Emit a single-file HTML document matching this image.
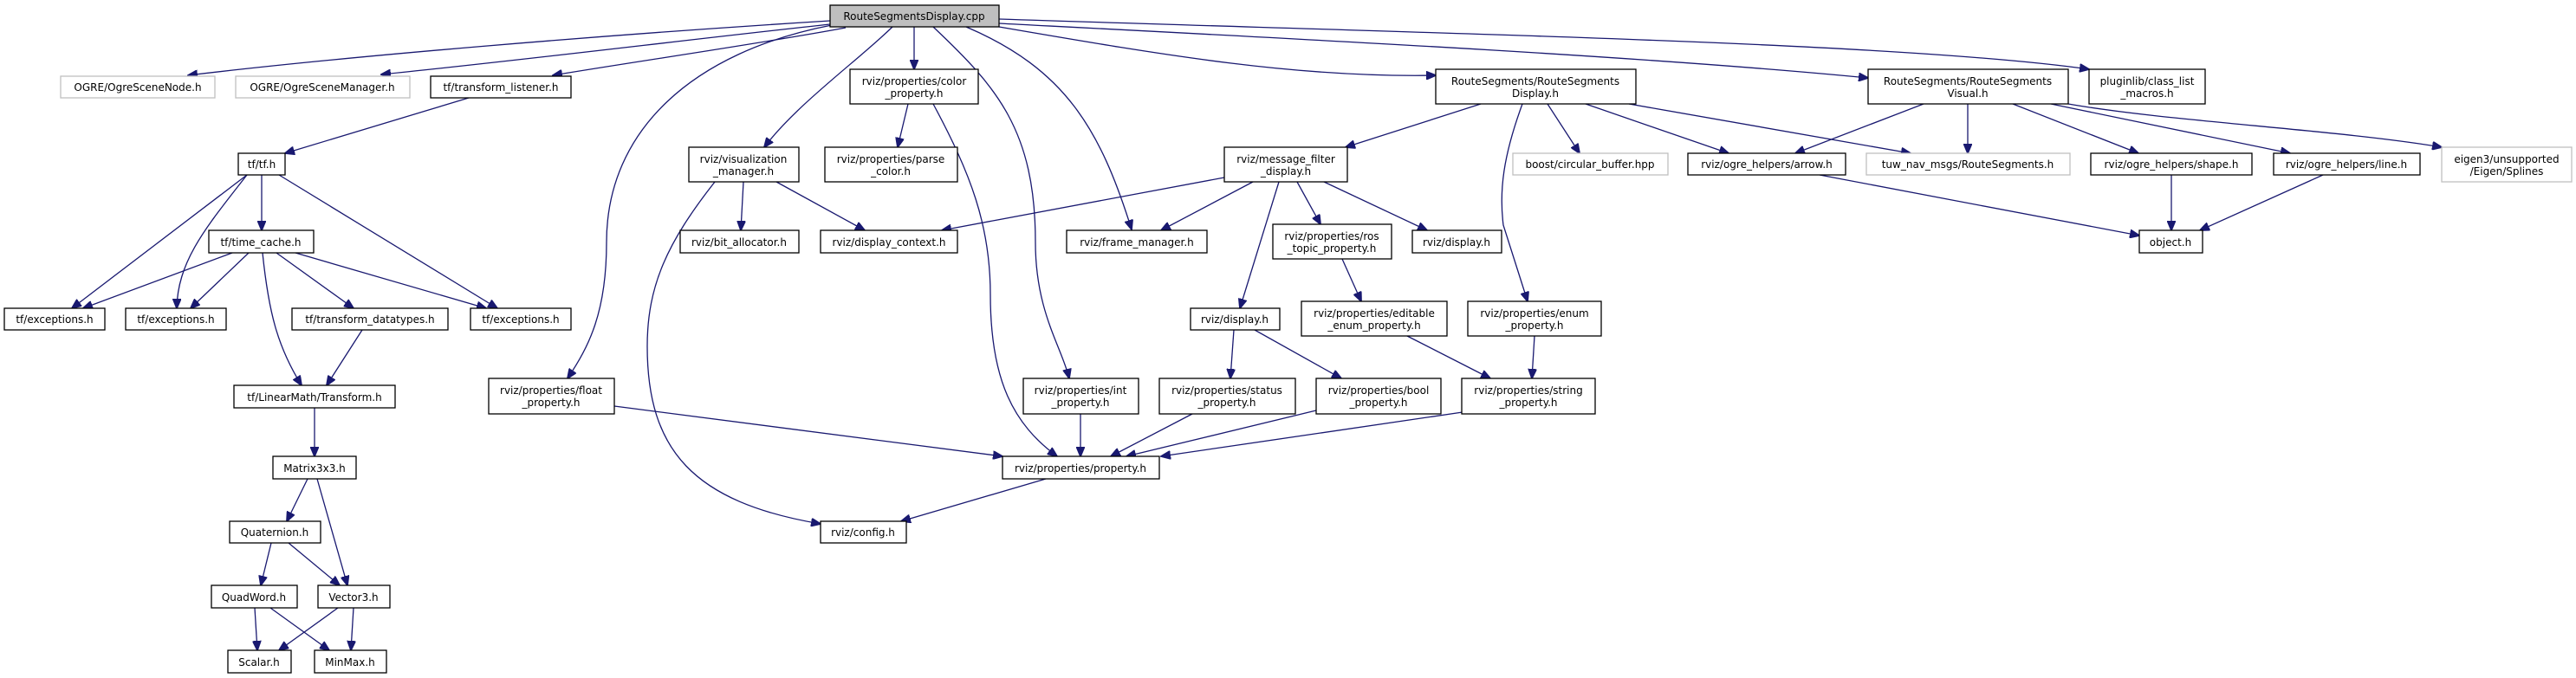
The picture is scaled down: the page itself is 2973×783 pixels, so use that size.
<!DOCTYPE html>
<html><head><meta charset="utf-8"><style>
html,body{margin:0;padding:0;background:#fff;}
svg{display:block;}
text{font-family:"DejaVu Sans","Liberation Sans",sans-serif;font-size:12px;fill:#000;text-anchor:middle;}
.n{fill:#fff;stroke:#000;stroke-width:1.3;}
.g{fill:#fff;stroke:#bfbfbf;stroke-width:1.3;}
.r{fill:#bfbfbf;stroke:#000;stroke-width:1.3;}
path{fill:none;stroke:#191970;stroke-width:1.3;}
</style></head><body>
<svg width="2973" height="783" viewBox="0 0 2973 783" xmlns="http://www.w3.org/2000/svg">
<defs><marker id="a" markerUnits="userSpaceOnUse" markerWidth="12" markerHeight="10" refX="11" refY="5" orient="auto"><polygon points="0,0 12,5 0,10" fill="#191970" stroke="#191970"/></marker></defs>
<g marker-end="url(#a)">
<path d="M958,24 C700,40 400,65 217,87"/>
<path d="M958,28 C800,45 600,70 440,86"/>
<path d="M976,32 C880,50 740,70 638,87"/>
<path d="M960,29 C800,60 700,150 700,280 C700,360 680,400 655,437"/>
<path d="M1030,31 C990,70 920,120 882,170"/>
<path d="M1055,31 L1055,80"/>
<path d="M1077,31 C1150,100 1195,150 1195,280 C1195,360 1225,400 1234,437"/>
<path d="M1115,31 C1230,80 1270,150 1306,265"/>
<path d="M1153,31 C1350,65 1500,90 1657,87"/>
<path d="M1153,27 C1500,45 1900,65 2156,90"/>
<path d="M1153,22 C1700,40 2200,50 2411,80"/>
<path d="M541,113 L329,177"/>
<path d="M285,202 L83,356"/>
<path d="M285,202 C240,260 205,300 204,356"/>
<path d="M302,202 L302,266"/>
<path d="M322,202 L574,356"/>
<path d="M268,292 L96,356"/>
<path d="M287,292 L220,356"/>
<path d="M319,292 L408,356"/>
<path d="M341,292 L561,356"/>
<path d="M303,292 C310,360 320,400 348,445"/>
<path d="M418,381 L377,445"/>
<path d="M363,471 L363,527"/>
<path d="M355,553 L331,602"/>
<path d="M366,553 L401,676"/>
<path d="M313,627 L301,676"/>
<path d="M333,627 L392,676"/>
<path d="M294,702 L297,751"/>
<path d="M312,702 L380,751"/>
<path d="M390,702 L322,751"/>
<path d="M408,702 L405,751"/>
<path d="M858,210 L855,266"/>
<path d="M896,210 L998,266"/>
<path d="M825,210 C770,280 747,330 747,400 C747,520 800,580 947,605"/>
<path d="M709,469 L1157,527"/>
<path d="M1048,120 L1036,170"/>
<path d="M1077,120 C1120,200 1143,260 1143,340 C1143,440 1170,490 1220,527"/>
<path d="M1247,478 L1247,527"/>
<path d="M1376,478 L1282,527"/>
<path d="M1519,474 L1300,527"/>
<path d="M1688,476 L1340,527"/>
<path d="M1207,553 L1040,602"/>
<path d="M1413,205 L1087,266"/>
<path d="M1446,210 L1340,266"/>
<path d="M1476,210 L1431,356"/>
<path d="M1497,210 L1524,259"/>
<path d="M1528,210 L1647,266"/>
<path d="M1709,120 L1553,170"/>
<path d="M1757,120 C1735,180 1730,220 1735,260 L1763,348"/>
<path d="M1786,120 L1823,177"/>
<path d="M1830,120 L1995,177"/>
<path d="M1880,120 L2205,177"/>
<path d="M1549,299 L1571,348"/>
<path d="M1424,381 L1420,437"/>
<path d="M1448,381 L1548,437"/>
<path d="M1624,388 L1720,437"/>
<path d="M1771,388 L1768,437"/>
<path d="M2220,120 L2072,177"/>
<path d="M2271,120 L2271,177"/>
<path d="M2323,120 L2468,177"/>
<path d="M2367,120 L2643,177"/>
<path d="M2387,120 C2500,140 2700,150 2818,170"/>
<path d="M2100,202 L2469,272"/>
<path d="M2506,202 L2506,266"/>
<path d="M2681,202 L2539,266"/>
</g>

<rect class="r" x="958" y="6" width="195" height="25"/><text x="1055" y="23">RouteSegmentsDisplay.cpp</text>
<rect class="g" x="70" y="88" width="178" height="25"/><text x="159" y="105">OGRE/OgreSceneNode.h</text>
<rect class="g" x="272" y="88" width="201" height="25"/><text x="372" y="105">OGRE/OgreSceneManager.h</text>
<rect class="n" x="497" y="88" width="162" height="25"/><text x="578" y="105">tf/transform_listener.h</text>
<rect class="n" x="275" y="177" width="54" height="25"/><text x="302" y="194">tf/tf.h</text>
<rect class="n" x="241" y="266" width="121" height="26"/><text x="301" y="284">tf/time_cache.h</text>
<rect class="n" x="5" y="356" width="116" height="25"/><text x="63" y="373">tf/exceptions.h</text>
<rect class="n" x="145" y="356" width="116" height="25"/><text x="203" y="373">tf/exceptions.h</text>
<rect class="n" x="337" y="356" width="180" height="25"/><text x="427" y="373">tf/transform_datatypes.h</text>
<rect class="n" x="543" y="356" width="116" height="25"/><text x="601" y="373">tf/exceptions.h</text>
<rect class="n" x="270" y="445" width="186" height="26"/><text x="363" y="463">tf/LinearMath/Transform.h</text>
<rect class="n" x="315" y="527" width="96" height="26"/><text x="363" y="545">Matrix3x3.h</text>
<rect class="n" x="265" y="602" width="105" height="25"/><text x="317" y="619">Quaternion.h</text>
<rect class="n" x="244" y="676" width="99" height="26"/><text x="293" y="694">QuadWord.h</text>
<rect class="n" x="367" y="676" width="83" height="26"/><text x="408" y="694">Vector3.h</text>
<rect class="n" x="263" y="751" width="73" height="26"/><text x="299" y="769">Scalar.h</text>
<rect class="n" x="363" y="751" width="83" height="26"/><text x="404" y="769">MinMax.h</text>
<rect class="n" x="564" y="437" width="145" height="41"/><text x="636" y="455">rviz/properties/float</text><text x="636" y="469">_property.h</text>
<rect class="n" x="795" y="170" width="127" height="40"/><text x="858" y="188">rviz/visualization</text><text x="858" y="202">_manager.h</text>
<rect class="n" x="785" y="266" width="137" height="26"/><text x="853" y="284">rviz/bit_allocator.h</text>
<rect class="n" x="947" y="266" width="158" height="26"/><text x="1026" y="284">rviz/display_context.h</text>
<rect class="n" x="981" y="80" width="148" height="40"/><text x="1055" y="98">rviz/properties/color</text><text x="1055" y="112">_property.h</text>
<rect class="n" x="952" y="170" width="153" height="40"/><text x="1028" y="188">rviz/properties/parse</text><text x="1028" y="202">_color.h</text>
<rect class="n" x="947" y="602" width="99" height="25"/><text x="996" y="619">rviz/config.h</text>
<rect class="n" x="1157" y="527" width="181" height="26"/><text x="1247" y="545">rviz/properties/property.h</text>
<rect class="n" x="1181" y="437" width="133" height="41"/><text x="1247" y="455">rviz/properties/int</text><text x="1247" y="469">_property.h</text>
<rect class="n" x="1338" y="437" width="157" height="41"/><text x="1416" y="455">rviz/properties/status</text><text x="1416" y="469">_property.h</text>
<rect class="n" x="1519" y="437" width="144" height="41"/><text x="1591" y="455">rviz/properties/bool</text><text x="1591" y="469">_property.h</text>
<rect class="n" x="1687" y="437" width="154" height="41"/><text x="1764" y="455">rviz/properties/string</text><text x="1764" y="469">_property.h</text>
<rect class="n" x="1231" y="266" width="162" height="26"/><text x="1312" y="284">rviz/frame_manager.h</text>
<rect class="n" x="1413" y="170" width="142" height="40"/><text x="1484" y="188">rviz/message_filter</text><text x="1484" y="202">_display.h</text>
<rect class="n" x="1469" y="259" width="137" height="40"/><text x="1537" y="277">rviz/properties/ros</text><text x="1537" y="291">_topic_property.h</text>
<rect class="n" x="1630" y="266" width="103" height="26"/><text x="1681" y="284">rviz/display.h</text>
<rect class="n" x="1374" y="356" width="103" height="25"/><text x="1425" y="373">rviz/display.h</text>
<rect class="n" x="1502" y="348" width="168" height="40"/><text x="1586" y="366">rviz/properties/editable</text><text x="1586" y="380">_enum_property.h</text>
<rect class="n" x="1694" y="348" width="154" height="40"/><text x="1771" y="366">rviz/properties/enum</text><text x="1771" y="380">_property.h</text>
<rect class="n" x="1657" y="80" width="231" height="40"/><text x="1772" y="98">RouteSegments/RouteSegments</text><text x="1772" y="112">Display.h</text>
<rect class="g" x="1746" y="177" width="179" height="25"/><text x="1835" y="194">boost/circular_buffer.hpp</text>
<rect class="n" x="1948" y="177" width="182" height="25"/><text x="2039" y="194">rviz/ogre_helpers/arrow.h</text>
<rect class="n" x="2156" y="80" width="231" height="40"/><text x="2271" y="98">RouteSegments/RouteSegments</text><text x="2271" y="112">Visual.h</text>
<rect class="n" x="2411" y="80" width="134" height="40"/><text x="2478" y="98">pluginlib/class_list</text><text x="2478" y="112">_macros.h</text>
<rect class="g" x="2154" y="177" width="235" height="25"/><text x="2271" y="194">tuw_nav_msgs/RouteSegments.h</text>
<rect class="n" x="2413" y="177" width="186" height="25"/><text x="2506" y="194">rviz/ogre_helpers/shape.h</text>
<rect class="n" x="2624" y="177" width="169" height="25"/><text x="2708" y="194">rviz/ogre_helpers/line.h</text>
<rect class="g" x="2818" y="170" width="150" height="40"/><text x="2893" y="188">eigen3/unsupported</text><text x="2893" y="202">/Eigen/Splines</text>
<rect class="n" x="2469" y="266" width="73" height="26"/><text x="2505" y="284">object.h</text>
</svg>
</body></html>
